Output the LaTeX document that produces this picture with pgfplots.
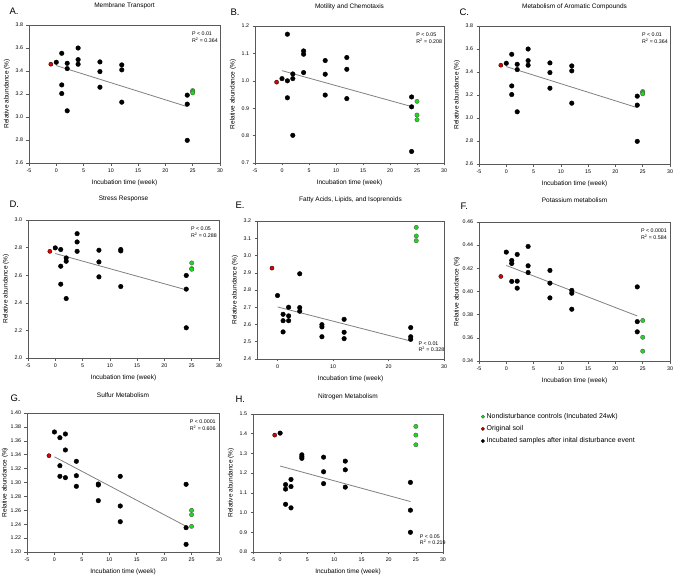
\documentclass[border=0pt]{standalone}
\usepackage{fontspec}
\setmainfont{Liberation Sans}
\usepackage{pgfplots}
\pgfplotsset{compat=1.18}

\newcommand\tickf{\fontsize{5.3}{6}\selectfont}
\newcommand\labf{\fontsize{6.5}{7.5}\selectfont}
\newcommand\letf{\fontsize{9.5}{11}\selectfont}
\newcommand\statf{\fontsize{5.3}{6.8}\selectfont}

\definecolor{ctrl}{RGB}{30,215,30}
\definecolor{orig}{RGB}{225,0,0}

\pgfplotsset{
  /pgf/number format/assume math mode=true,
  panel/.style={
    scale only axis, clip=false,
    xmin=-5, xmax=30, xtick={-5,0,...,30},
    axis line style={black!65, line width=0.6pt},
    tick align=outside, xtick pos=bottom, ytick pos=left,
    major tick length=2.5pt, tick style={black!65, line width=0.5pt},
    tick label style={font=\tickf},
    xlabel={Incubation time (week)}, ylabel={Relative abundance (\%)},
    label style={font=\labf},
    xlabel style={at={(axis description cs:0.5,0)}, anchor=center, yshift=-20pt},
    ylabel style={at={(axis description cs:0,0.5)}, anchor=center, yshift=22pt},
    every axis title/.style={font=\labf, at={(axis description cs:0.5,1)}, anchor=base, inner sep=0pt},
  },
  tys/.style={title style={yshift=#1}},
  dec1/.style={yticklabel style={/pgf/number format/.cd, fixed, fixed zerofill, precision=1}},
  dec2/.style={yticklabel style={/pgf/number format/.cd, fixed, fixed zerofill, precision=2}},
  blk/.style={only marks, mark=*, mark size=2.3pt, mark options={fill=black, draw=black}},
  red/.style={only marks, mark=*, mark size=2.1pt, mark options={fill=orig, draw=black, line width=0.3pt}},
  grn/.style={only marks, mark=*, mark size=2.2pt, mark options={fill=ctrl, draw=black!70, line width=0.3pt}},
  fit/.style={no marks, gray, line width=0.8pt},
}

\begin{document}
\begin{tikzpicture}
\path[use as bounding box] (0,0) rectangle (675pt,-576pt);

% A
\begin{axis}[panel, dec1, width=191pt, height=138pt, at={(29pt,-25pt)}, anchor=north west,
  ymin=2.6, ymax=3.8, ytick={2.6,2.8,...,3.81}, title={Membrane Transport}, tys=17.5pt]
\addplot[blk] coordinates {(0,3.476)(1,3.554)(1,3.279)(1,3.204)(2,3.467)(2,3.421)(2,3.054)(4,3.600)(4,3.499)(4,3.459)(8,3.479)(8,3.395)(8,3.259)(12,3.453)(12,3.410)(12,3.129)(24,3.190)(24,3.112)(24,2.797)};
\addplot[red] coordinates {(-1,3.459)};
\addplot[grn] coordinates {(25,3.23)(25,3.22)(25,3.21)};
\addplot[fit] coordinates {(0,3.447)(24,3.090)};
\node[font=\letf, anchor=base west, xshift=-23pt, yshift=11pt] at (axis description cs:0,1) {A.};
\node[font=\statf, anchor=north west, align=left] at (axis description cs:0.835,0.975) {P < 0.01\\R\textsuperscript{2} = 0.364};
\end{axis}

% B
\begin{axis}[panel, dec1, width=189pt, height=137pt, at={(255pt,-26pt)}, anchor=north west,
  ymin=0.7, ymax=1.2, ytick={0.7,0.8,...,1.21}, title={Motility and Chemotaxis}, tys=17.5pt]
\addplot[blk] coordinates {(0,1.008)(1,1.170)(1,1.000)(1,0.938)(2,1.025)(2,1.008)(2,0.801)(4,1.109)(4,1.097)(4,1.030)(8,1.074)(8,1.024)(8,0.948)(12,1.085)(12,1.042)(12,0.935)(24,0.941)(24,0.905)(24,0.742)};
\addplot[red] coordinates {(-1,0.995)};
\addplot[grn] coordinates {(25,0.925)(25,0.875)(25,0.858)};
\addplot[fit] coordinates {(0,1.037)(24,0.906)};
\node[font=\letf, anchor=base west, xshift=-28pt, yshift=11pt] at (axis description cs:0,1) {B.};
\node[font=\statf, anchor=north west, align=left] at (axis description cs:0.835,0.975) {P < 0.05\\R\textsuperscript{2} = 0.208};
\end{axis}

% C
\begin{axis}[panel, dec1, width=191pt, height=138pt, at={(479pt,-26pt)}, anchor=north west,
  ymin=2.6, ymax=3.8, ytick={2.6,2.8,...,3.81}, title={Metabolism of Aromatic Compounds}, tys=17.5pt]
\addplot[blk] coordinates {(0,3.476)(1,3.554)(1,3.279)(1,3.204)(2,3.467)(2,3.421)(2,3.054)(4,3.600)(4,3.499)(4,3.459)(8,3.479)(8,3.395)(8,3.259)(12,3.453)(12,3.410)(12,3.129)(24,3.190)(24,3.112)(24,2.797)};
\addplot[red] coordinates {(-1,3.459)};
\addplot[grn] coordinates {(25,3.23)(25,3.22)(25,3.21)};
\addplot[fit] coordinates {(0,3.447)(24,3.090)};
\node[font=\letf, anchor=base west, xshift=-23pt, yshift=11pt] at (axis description cs:0,1) {C.};
\node[font=\statf, anchor=north west, align=left] at (axis description cs:0.835,0.975) {P < 0.01\\R\textsuperscript{2} = 0.364};
\end{axis}

% D
\begin{axis}[panel, dec1, width=191pt, height=138pt, at={(28pt,-220pt)}, anchor=north west,
  ymin=2.0, ymax=3.0, ytick={2.0,2.2,...,3.01}, title={Stress Response}, tys=20pt]
\addplot[blk] coordinates {(0,2.798)(1,2.786)(1,2.665)(1,2.535)(2,2.725)(2,2.701)(2,2.431)(4,2.901)(4,2.841)(4,2.773)(8,2.781)(8,2.696)(8,2.588)(12,2.786)(12,2.776)(12,2.518)(24,2.598)(24,2.499)(24,2.219)};
\addplot[red] coordinates {(-1,2.773)};
\addplot[grn] coordinates {(25,2.689)(25,2.648)(25,2.643)};
\addplot[fit] coordinates {(0,2.757)(24,2.494)};
\node[font=\letf, anchor=base west, xshift=-22pt, yshift=13pt] at (axis description cs:0,1) {D.};
\node[font=\statf, anchor=north west, align=left] at (axis description cs:0.835,0.975) {P < 0.05\\R\textsuperscript{2} = 0.288};
\end{axis}

% E
\begin{axis}[panel, dec1, width=187pt, height=138pt, at={(257pt,-221pt)}, anchor=north west,
  xmin=-3.7, xmax=30, xtick={0,10,20,30},
  ymin=2.4, ymax=3.2, ytick={2.4,2.5,...,3.21}, title={Fatty Acids, Lipids, and Isoprenoids}, tys=20pt]
\addplot[blk] coordinates {(0,2.768)(1,2.659)(1,2.622)(1,2.557)(2,2.700)(2,2.650)(2,2.622)(4,2.894)(4,2.698)(4,2.677)(8,2.599)(8,2.586)(8,2.529)(12,2.630)(12,2.555)(12,2.518)(24,2.582)(24,2.529)(24,2.514)};
\addplot[red] coordinates {(-1,2.927)};
\addplot[grn] coordinates {(25,3.163)(25,3.113)(25,3.086)};
\addplot[fit] coordinates {(0,2.702)(24,2.504)};
\node[font=\letf, anchor=base west, xshift=-25pt, yshift=13pt] at (axis description cs:0,1) {E.};
\node[font=\statf, anchor=south west, align=left] at (axis description cs:0.845,0.025) {P < 0.01\\R\textsuperscript{2} = 0.328};
\end{axis}

% F
\begin{axis}[panel, dec2, width=191pt, height=139pt, at={(479pt,-222pt)}, anchor=north west,
  ymin=0.34, ymax=0.46, ytick={0.34,0.36,...,0.461}, title={Potassium metabolism}, tys=20pt]
\addplot[blk] coordinates {(0,0.4340)(1,0.4268)(1,0.4242)(1,0.4087)(2,0.4320)(2,0.4089)(2,0.4029)(4,0.4389)(4,0.4222)(4,0.4164)(8,0.4182)(8,0.4072)(8,0.3945)(12,0.4010)(12,0.3985)(12,0.3847)(24,0.4040)(24,0.3740)(24,0.3652)};
\addplot[red] coordinates {(-1,0.4130)};
\addplot[grn] coordinates {(25,0.3750)(25,0.3605)(25,0.3485)};
\addplot[fit] coordinates {(0,0.4225)(24,0.3789)};
\node[font=\letf, anchor=base west, xshift=-22pt, yshift=13pt] at (axis description cs:0,1) {F.};
\node[font=\statf, anchor=north west, align=left] at (axis description cs:0.83,0.975) {P < 0.0001\\R\textsuperscript{2} = 0.584};
\end{axis}

% G
\begin{axis}[panel, dec2, width=192pt, height=139pt, at={(27pt,-413pt)}, anchor=north west,
  ymin=1.20, ymax=1.40, ytick={1.20,1.22,...,1.401}, title={Sulfur Metabolism}, tys=16pt]
\addplot[blk] coordinates {(0,1.3727)(1,1.3645)(1,1.3242)(1,1.3089)(2,1.3698)(2,1.3468)(2,1.3070)(4,1.3305)(4,1.3098)(4,1.2945)(8,1.2978)(8,1.2964)(8,1.2739)(12,1.3089)(12,1.2662)(12,1.2436)(24,1.2974)(24,1.2350)(24,1.2110)};
\addplot[red] coordinates {(-1,1.3386)};
\addplot[grn] coordinates {(25,1.2600)(25,1.2537)(25,1.2369)};
\addplot[fit] coordinates {(0,1.337)(24,1.237)};
\node[font=\letf, anchor=base west, xshift=-20pt, yshift=12pt] at (axis description cs:0,1) {G.};
\node[font=\statf, anchor=north west, align=left] at (axis description cs:0.83,0.975) {P < 0.0001\\R\textsuperscript{2} = 0.606};
\end{axis}

% H
\begin{axis}[panel, dec1, width=190pt, height=138pt, at={(253pt,-414pt)}, anchor=north west,
  ymin=0.8, ymax=1.5, ytick={0.8,0.9,...,1.51}, title={Nitrogen Metabolism}, tys=16pt,
  legend style={draw=none, fill=none, at={(axis description cs:1.2,1.02)}, anchor=north west,
    font=\fontsize{7}{8}\selectfont, row sep=1.6pt, inner sep=0pt},
  legend cell align=left,
  legend image code/.code={\draw[#1,mark size=1.7pt] plot coordinates {(2pt,0pt)};}]
\addplot[blk, forget plot] coordinates {(0,1.403)(1,1.142)(1,1.119)(1,1.042)(2,1.168)(2,1.132)(2,1.024)(4,1.293)(4,1.283)(4,1.275)(8,1.281)(8,1.207)(8,1.147)(12,1.261)(12,1.217)(12,1.129)(24,1.153)(24,1.012)(24,0.900)};
\addplot[red, forget plot] coordinates {(-1,1.393)};
\addplot[grn, forget plot] coordinates {(25,1.437)(25,1.393)(25,1.344)};
\addplot[fit, forget plot] coordinates {(0,1.236)(24,1.056)};
\node[font=\letf, anchor=base west, xshift=-21pt, yshift=12pt] at (axis description cs:0,1) {H.};
\node[font=\statf, anchor=south west, align=left] at (axis description cs:0.86,0.025) {P < 0.05\\R\textsuperscript{2} = 0.219};
\addlegendimage{grn}
\addlegendentry{Nondisturbance controls (Incubated 24wk)}
\addlegendimage{red}
\addlegendentry{Original soil}
\addlegendimage{blk}
\addlegendentry{Incubated samples after inital disturbance event}
\end{axis}
\end{tikzpicture}
\end{document}
